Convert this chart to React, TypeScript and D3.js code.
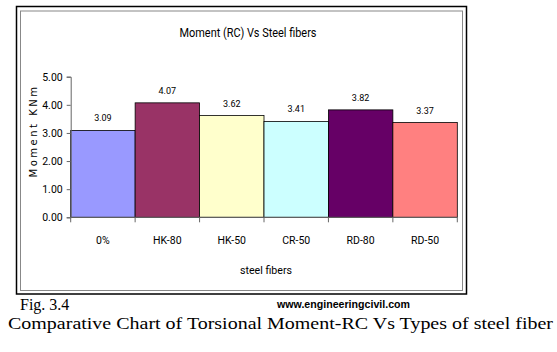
import React, { useRef, useEffect } from "react";
import * as d3 from "d3";

const categories = ["0%", "HK-80", "HK-50", "CR-50", "RD-80", "RD-50"];
const moments = [3.09, 4.07, 3.62, 3.41, 3.82, 3.37];
const barColors = ["#9999FF", "#993366", "#FFFFCC", "#CCFFFF", "#660066", "#FF8080"];
const yTicks = [0, 1, 2, 3, 4, 5];

const narrow = "Roboto, 'Open Sans', sans-serif";

function MomentChart() {
  const svgRef = useRef<SVGSVGElement>(null);

  useEffect(() => {
    const width = 557;
    const height = 352;
    const plot = { left: 70.7, right: 457.3, top: 76.7, bottom: 217.3 };

    const svg = d3.select(svgRef.current).attr("width", width).attr("height", height);
    svg.selectAll("*").remove();

    svg.append("rect").attr("width", width).attr("height", height).attr("fill", "#fff");

    // chart frame: black outer, grey inner
    svg.append("rect")
      .attr("x", 16.5).attr("y", 6.5).attr("width", 450).attr("height", 287.5)
      .attr("fill", "none").attr("stroke", "#000").attr("stroke-width", 1.5);
    svg.append("rect")
      .attr("x", 20.5).attr("y", 11).attr("width", 442).attr("height", 279.5)
      .attr("fill", "#fff").attr("stroke", "#888").attr("stroke-width", 1);

    const x = d3.scaleBand()
      .domain(categories)
      .range([plot.left, plot.right])
      .padding(0);

    const y = d3.scaleLinear()
      .domain([0, 5])
      .range([plot.bottom, plot.top]);

    // Bars
    svg.append("g")
      .selectAll("rect")
      .data(moments)
      .enter()
      .append("rect")
      .attr("x", (d, i) => x(categories[i])!)
      .attr("y", d => y(d))
      .attr("width", x.bandwidth())
      .attr("height", d => y(0) - y(d))
      .attr("fill", (d, i) => barColors[i])
      .attr("stroke", "#000")
      .attr("stroke-width", 0.8);

    // Value labels
    svg.append("g")
      .selectAll("text")
      .data(moments)
      .enter()
      .append("text")
      .attr("x", (d, i) => x(categories[i])! + x.bandwidth() / 2)
      .attr("y", d => y(d) - 9)
      .attr("text-anchor", "middle")
      .attr("font-family", narrow)
      .attr("font-size", 9)
      .text(d => d.toFixed(2));

    // Y axis
    const yAxis = svg.append("g")
      .attr("transform", `translate(${plot.left}, 0)`)
      .call(d3.axisLeft(y).tickValues(yTicks).tickSize(4).tickFormat(d3.format(".2f")));
    yAxis.select(".domain").attr("stroke", "#666");
    yAxis.selectAll(".tick line").attr("stroke", "#666");
    yAxis.selectAll(".tick text")
      .attr("font-family", narrow).attr("font-size", 10.5).attr("fill", "#000").attr("x", -8);

    // X axis with ticks at category boundaries
    const xAxis = svg.append("g")
      .attr("transform", `translate(0, ${plot.bottom})`);
    xAxis.append("line")
      .attr("x1", plot.left).attr("x2", plot.right)
      .attr("stroke", "#666");
    xAxis.selectAll("line.bound")
      .data(categories.concat([""]))
      .enter()
      .append("line")
      .attr("class", "bound")
      .attr("x1", (d, i) => plot.left + i * x.bandwidth())
      .attr("x2", (d, i) => plot.left + i * x.bandwidth())
      .attr("y1", 0).attr("y2", 5)
      .attr("stroke", "#666");
    xAxis.selectAll("text")
      .data(categories)
      .enter()
      .append("text")
      .attr("x", d => x(d)! + x.bandwidth() / 2)
      .attr("y", 27)
      .attr("text-anchor", "middle")
      .attr("font-family", narrow)
      .attr("font-size", 10.5)
      .text(d => d);

    // Titles
    svg.append("text")
      .attr("x", 248).attr("y", 37)
      .attr("text-anchor", "middle")
      .attr("font-family", narrow)
      .attr("font-size", 12)
      .attr("textLength", 137)
      .attr("lengthAdjust", "spacingAndGlyphs")
      .text("Moment (RC) Vs Steel fibers");

    svg.append("text")
      .attr("x", 266).attr("y", 274)
      .attr("text-anchor", "middle")
      .attr("font-family", narrow)
      .attr("font-size", 11.5)
      .attr("textLength", 52)
      .attr("lengthAdjust", "spacingAndGlyphs")
      .text("steel fibers");

    svg.append("text")
      .attr("transform", "rotate(-90)")
      .attr("x", -131).attr("y", 37)
      .attr("text-anchor", "middle")
      .attr("font-family", "'DejaVu Sans', sans-serif")
      .attr("font-size", 10)
      .attr("letter-spacing", 2.5)
      .text("Moment KNm");

    // Caption below the chart
    svg.append("text")
      .attr("x", 20).attr("y", 310)
      .attr("font-family", "'Liberation Serif', serif")
      .attr("font-size", 16)
      .text("Fig. 3.4");

    svg.append("text")
      .attr("x", 277).attr("y", 308)
      .attr("font-family", "'Liberation Sans', sans-serif")
      .attr("font-weight", "bold")
      .attr("font-size", 10)
      .attr("textLength", 133)
      .attr("lengthAdjust", "spacingAndGlyphs")
      .text("www.engineeringcivil.com");

    svg.append("text")
      .attr("x", 8).attr("y", 329)
      .attr("font-family", "'Liberation Serif', serif")
      .attr("font-size", 17)
      .attr("textLength", 545)
      .attr("lengthAdjust", "spacingAndGlyphs")
      .text("Comparative Chart of Torsional Moment-RC Vs Types of steel fiber");
  }, []);

  return <svg ref={svgRef} style={{ position: "absolute", left: 0, top: 0 }}></svg>;
}

export default function App() {
  return <MomentChart />;
}
